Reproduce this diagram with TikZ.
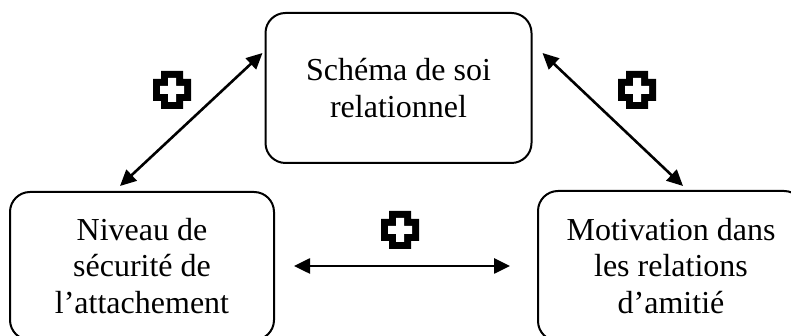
\documentclass[tikz,border=0pt]{standalone}
\usepackage{fontspec}
\setmainfont{Liberation Serif}
\usetikzlibrary{arrows.meta}

\begin{document}
\begin{tikzpicture}[>={Triangle[length=8pt,width=7.5pt]},x=0.5pt,y=0.5pt,
	boite/.style={draw,line width=1pt,rounded corners=10pt,align=center,
		minimum width=133pt,minimum height=75pt,inner sep=0pt,
		font=\fontsize{16}{18.4}\selectfont},
	fleche/.style={<->,line width=1.3pt},
	croix/.pic={
		\fill[black] (-11,-19)--(11,-19)--(11,-11)--(19,-11)--(19,11)--(11,11)--(11,19)--(-11,19)--(-11,11)--(-19,11)--(-19,-11)--(-11,-11)--cycle;
		\fill[white] (-4,-12)--(4,-12)--(4,-4)--(12,-4)--(12,4)--(4,4)--(4,12)--(-4,12)--(-4,4)--(-12,4)--(-12,-4)--(-4,-4)--cycle;
	}]
	\useasboundingbox (0,0) rectangle (791,336);
	\clip (0,0) rectangle (791,336);
	% les trois boites
	\node[boite] (haut) at (398.5,248) {Schéma de soi\\relationnel};
	\node[boite,minimum width=132pt,minimum height=74pt] (gauche) at (142,70) {Niveau de\\sécurité de\\l’attachement};
	\node[boite] (droite) at (671,70) {Motivation dans\\les relations\\d’amitié};
	% fleches
	\draw[fleche] ([xshift=-11pt,yshift=2.5pt]gauche.north) -- ([xshift=-1pt,yshift=17.5pt]haut.west);
	\draw[fleche] ([xshift=5pt,yshift=17.5pt]haut.east) -- ([xshift=6pt,yshift=2pt]droite.north);
	\draw[fleche,shorten <=9.5pt,shorten >=13.5pt] (gauche.east) -- (droite.west);
	% signes plus
	\pic at (172,246) {croix};
	\pic at (400,106) {croix};
	\pic at (637,246) {croix};
\end{tikzpicture}
\end{document}
